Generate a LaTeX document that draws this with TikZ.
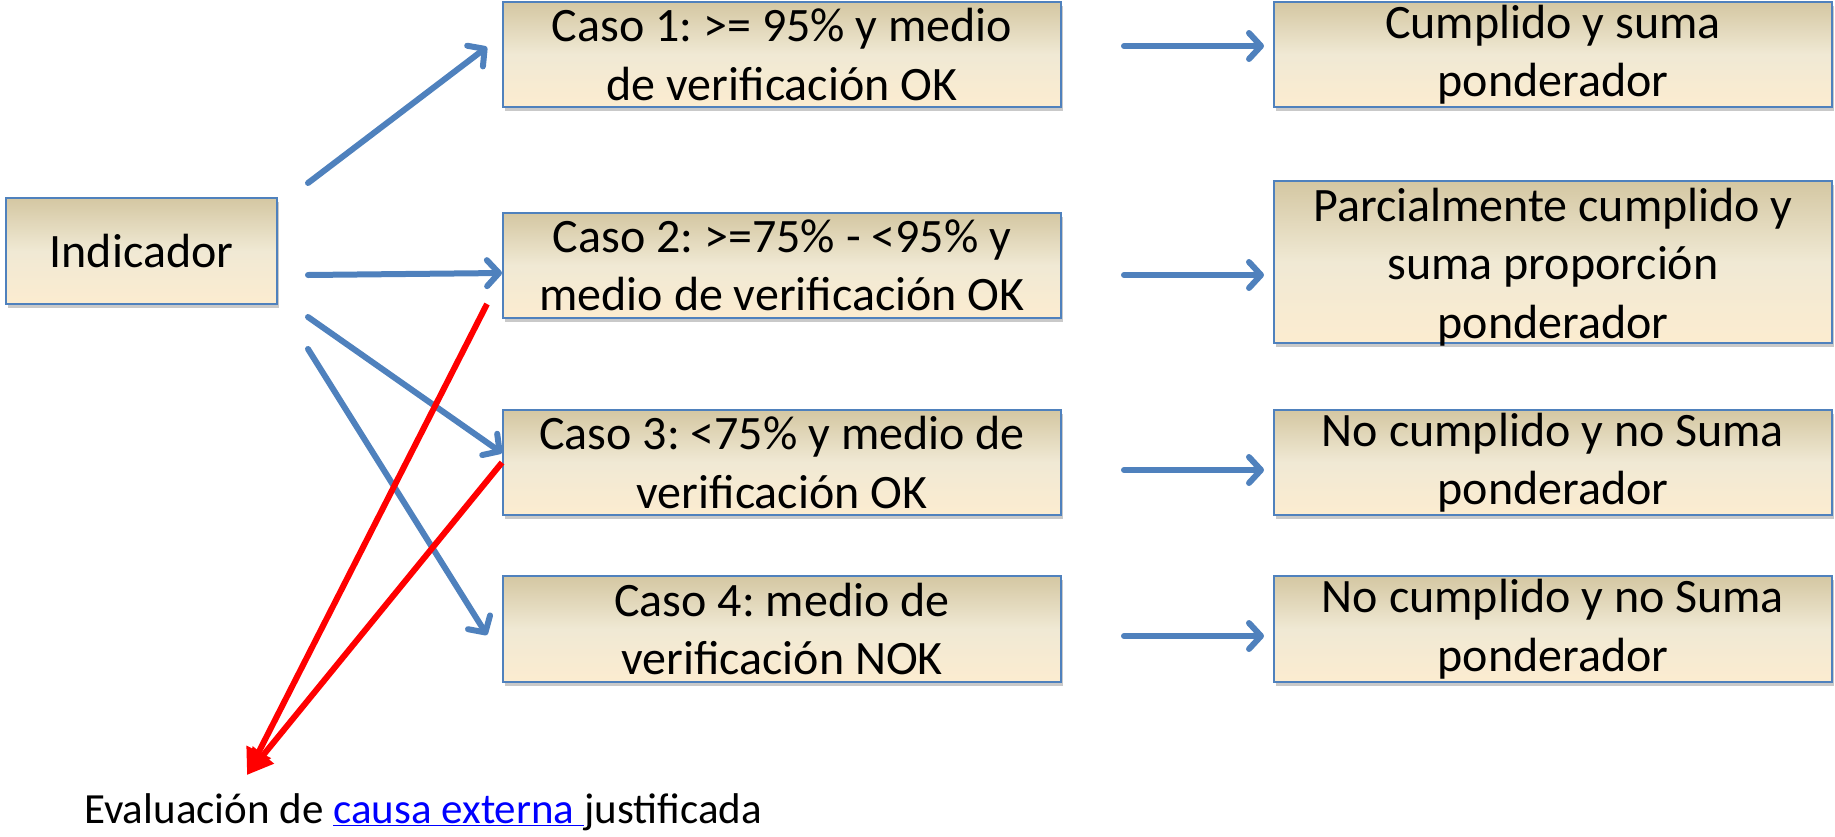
\documentclass[tikz,border=0pt]{standalone}
\usepackage{fontspec}
\setmainfont{Carlito}
\usetikzlibrary{arrows.meta,shadows,calc}
\definecolor{bl}{RGB}{79,129,189}
\definecolor{tanT}{RGB}{212,199,162}
\definecolor{tanM}{RGB}{240,233,212}
\definecolor{tanB}{RGB}{252,236,208}
\definecolor{linkblue}{RGB}{0,0,255}
\frenchspacing
\begin{document}
\begin{tikzpicture}[x=1pt,y=-1pt,
  box/.style={draw=bl, line width=2pt, top color=tanT, bottom color=tanB, middle color=tanM,
    drop shadow={shadow xshift=2pt, shadow yshift=-4pt, opacity=0.3, fill=black!70},
    inner sep=0pt, minimum width=558pt},
  txt/.style={font=\fontsize{48}{58.5}\selectfont, align=center, inner sep=0pt},
  barrow/.style={draw=bl, line width=6pt, line cap=round,
    -{Straight Barb[length=12pt, width=26pt, line join=round, line cap=round]}},
  rarrow/.style={draw=red, line width=6pt, -{Triangle[length=26pt, width=26pt]}}]
\useasboundingbox (0,0) rectangle (1835,836);

% boxes
\node[box, minimum width=271pt, minimum height=106pt] (ind) at (141.5,251) {};
\node[txt] (indt) at (ind) {Indicador};

\node[box, minimum height=105pt] (c1) at (782,54.5) {};
\node[txt] (c1t) at (c1) {Caso 1: >= 95\% y medio\\de verificación OK};
\node[box, minimum height=105pt] (c2) at (782,265.5) {};
\node[txt] (c2t) at (c2) {Caso 2: >=75\% - <95\% y\\medio de verificación OK};
\node[box, minimum height=105pt] (c3) at (782,462.5) {};
\node[txt] (c3t) at (c3) {Caso 3: <75\% y medio de\\verificación OK};
\node[box, minimum height=106pt] (c4) at (782,629) {};
\node[txt] (c4t) at (c4) {Caso 4: medio de\\verificación NOK};

\node[box, minimum height=105pt] (r1) at (1553,54.5) {};
\node[txt] (r1t) at (r1) {Cumplido y suma\\ponderador};
\node[box, minimum height=162pt] (r2) at (1553,262) {};
\node[txt] (r2t) at ($(r2)+(0,5)$) {Parcialmente cumplido y\\suma proporción\\ponderador};
\node[box, minimum height=105pt] (r3) at (1553,462.5) {};
\node[txt] (r3t) at (r3) {No cumplido y no Suma\\ponderador};
\node[box, minimum height=106pt] (r4) at (1553,629) {};
\node[txt] (r4t) at (r4) {No cumplido y no Suma\\ponderador};

% bottom text
\node[anchor=base west, font=\fontsize{43}{51}\selectfont, inner sep=0pt] (eval) at (84,823)
  {Evaluación de {\color{linkblue}\underline{causa externa\ }}justificada};
\coordinate (tip) at (247,775);

% blue arrows from Indicador
\draw[barrow] ($(ind.east)+(30,-68)$) -- ($(c1.west)+(-15,-7.5)$);
\draw[barrow] ($(ind.east)+(30,24)$) -- ($(c2.west)+(0,7.5)$);
\draw[barrow] ($(ind.east)+(30,66)$) -- ($(c3.west)+(0,-9.5)$);
\draw[barrow] ($(ind.east)+(30,98)$) -- ($(c4.west)+(-15,6)$);

% case -> result arrows
\draw[barrow] ($(c1.east)+(62,-8.5)$) -- ($(r1.west)+(-9,-8.5)$);
\draw[barrow] ($(c2.east)+(62,9.5)$) -- ($(r2.west)+(-9,13)$);
\draw[barrow] ($(c3.east)+(62,7.5)$) -- ($(r3.west)+(-9,7.5)$);
\draw[barrow] ($(c4.east)+(62,7)$) -- ($(r4.west)+(-9,7)$);

% red arrows
\draw[rarrow] ($(c2.south west)+(-15,-15)$) -- (tip);
\draw[rarrow] (c3.west) -- (tip);
\end{tikzpicture}
\end{document}
